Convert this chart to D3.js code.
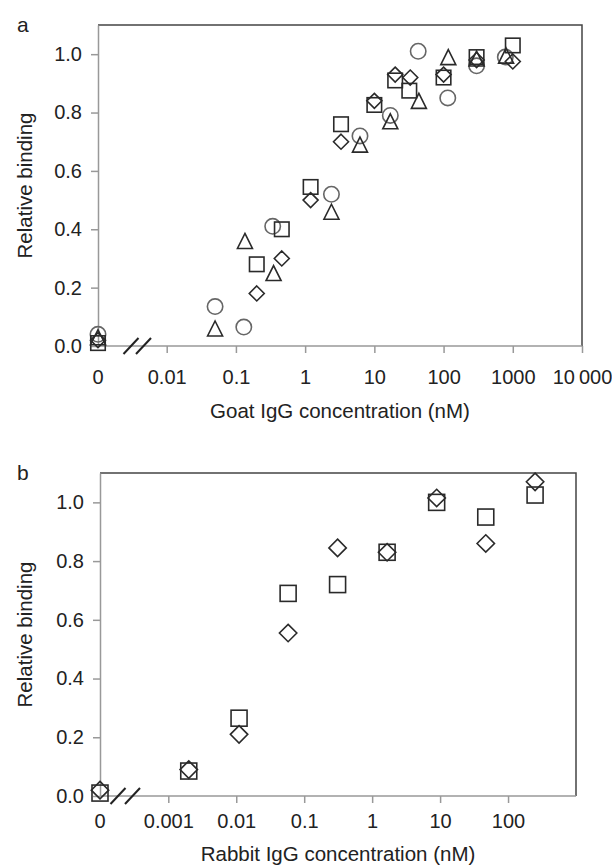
<!DOCTYPE html>
<html>
<head>
<meta charset="utf-8">
<script src="https://cdn.jsdelivr.net/npm/d3@7"></script>
<style>
  body { margin: 0; background: #fff; }
  text { font-family: "Liberation Sans", Arial, sans-serif; fill: #222; }
</style>
</head>
<body>
<svg id="chart" width="612" height="866"></svg>
<script>
// ---- panel a: goat IgG ----
const goatTicks = [0.01, 0.1, 1, 10, 100, 1000, 10000];
const goatTickLabels = ['0.01', '0.1', '1', '10', '100', '1000', '10\u2009000'];

const goatCircleX = [0, 0.05, 0.13, 0.34, 2.4, 6.2, 17, 43, 115, 300, 780];
const goatCircleY = [0.04, 0.135, 0.065, 0.41, 0.52, 0.72, 0.79, 1.01, 0.85, 0.96, 0.99];

const goatTriangleX = [0, 0.05, 0.135, 0.35, 2.4, 6.2, 17, 44, 117, 300, 800];
const goatTriangleY = [0.03, 0.06, 0.36, 0.25, 0.46, 0.69, 0.77, 0.84, 0.99, 0.985, 0.995];

const goatSquareX = [0, 0.2, 0.46, 1.2, 3.3, 10, 20, 32, 100, 300, 1000];
const goatSquareY = [0.01, 0.28, 0.40, 0.545, 0.76, 0.826, 0.91, 0.875, 0.92, 0.99, 1.03];

const goatDiamondX = [0, 0.2, 0.46, 1.2, 3.3, 10, 20, 33, 100, 300, 1000];
const goatDiamondY = [0.02, 0.18, 0.30, 0.50, 0.70, 0.84, 0.93, 0.92, 0.93, 0.98, 0.975];

// ---- panel b: rabbit IgG ----
const rabbitTicks = [0.001, 0.01, 0.1, 1, 10, 100];
const rabbitTickLabels = ['0.001', '0.01', '0.1', '1', '10', '100'];

const rabbitConc = [0, 0.002, 0.011, 0.058, 0.31, 1.66, 8.9, 47, 250];
const rabbitSquareY = [0.01, 0.085, 0.265, 0.69, 0.72, 0.83, 1.0, 0.95, 1.025];
const rabbitDiamondY = [0.02, 0.09, 0.21, 0.555, 0.845, 0.83, 1.015, 0.86, 1.07];

const yTicks = [0, 0.2, 0.4, 0.6, 0.8, 1.0];

const svg = d3.select('#chart');

const zip = (xs, ys) => xs.map((x, i) => ({ x, y: ys[i] }));

function drawPanel(p) {
  const g = svg.append('g');

  const x = d3.scaleLog().domain(p.domain).range([p.logStart, p.right]);
  const y = d3.scaleLinear().domain([0, 1.1]).range([p.bottom, p.top]);
  const xPos = (v) => (v === 0 ? p.left : x(v));

  // frame: top and right dark
  g.append('path')
    .attr('d', `M${p.left},${p.top}H${p.right}V${p.bottom}`)
    .attr('fill', 'none')
    .attr('stroke', '#444')
    .attr('stroke-width', 1.5);

  // bottom axis line
  g.append('line')
    .attr('x1', p.left).attr('x2', p.right)
    .attr('y1', p.bottom).attr('y2', p.bottom)
    .attr('stroke', '#999')
    .attr('stroke-width', 1.5);

  const xAxis = g.append('g')
    .attr('transform', `translate(0,${p.bottom})`)
    .attr('color', '#999')
    .call(d3.axisBottom(x)
      .tickValues(p.ticks)
      .tickFormat((d, i) => p.tickLabels[i])
      .tickSize(7)
      .tickSizeOuter(0)
      .tickPadding(p.xPad));
  xAxis.select('.domain').remove();
  xAxis.selectAll('line').attr('stroke-width', 1.5);
  xAxis.selectAll('text')
    .attr('fill', '#222')
    .style('font-size', '20px')
    .style('font-family', '"Liberation Sans", Arial, sans-serif');

  // zero label under the broken part of the axis
  g.append('text')
    .attr('x', p.left)
    .attr('y', p.bottom + p.xPad + 7 + 14.2)
    .attr('text-anchor', 'middle')
    .style('font-size', '20px')
    .text('0');

  const yAxis = g.append('g')
    .attr('transform', `translate(${p.left},0)`)
    .attr('color', '#999')
    .call(d3.axisLeft(y)
      .tickValues(yTicks)
      .tickFormat(d3.format('.1f'))
      .tickSize(7)
      .tickSizeOuter(0)
      .tickPadding(9));
  yAxis.select('.domain').attr('stroke-width', 1.5);
  yAxis.selectAll('line').attr('stroke-width', 1.5);
  yAxis.selectAll('text')
    .attr('fill', '#222')
    .style('font-size', '20px')
    .style('font-family', '"Liberation Sans", Arial, sans-serif');

  // titles
  g.append('text')
    .attr('x', 17).attr('y', p.top + 7)
    .style('font-size', '21px')
    .text(p.letter);

  g.append('text')
    .attr('transform', `translate(31.5,${(p.top + p.bottom) / 2}) rotate(-90)`)
    .attr('text-anchor', 'middle')
    .style('font-size', '20.5px')
    .text('Relative binding');

  g.append('text')
    .attr('x', (p.left + p.right) / 2)
    .attr('y', p.titleY)
    .attr('text-anchor', 'middle')
    .style('font-size', '20.5px')
    .text(p.xTitle);

  // markers
  const m = p.marker;
  p.series.forEach((s) => {
    const pts = g.append('g')
      .attr('fill', 'none')
      .attr('stroke', s.color)
      .attr('stroke-width', 1.6);
    const data = zip(s.x, s.y);
    if (s.shape === 'circle') {
      pts.selectAll('circle').data(data).join('circle')
        .attr('cx', (d) => xPos(d.x))
        .attr('cy', (d) => y(d.y))
        .attr('r', m.r);
    } else if (s.shape === 'square') {
      pts.selectAll('rect').data(data).join('rect')
        .attr('x', (d) => xPos(d.x) - m.sq / 2)
        .attr('y', (d) => y(d.y) - m.sq / 2)
        .attr('width', m.sq)
        .attr('height', m.sq);
    } else if (s.shape === 'diamond') {
      const h = m.dia;
      pts.selectAll('path').data(data).join('path')
        .attr('d', (d) => {
          const cx = xPos(d.x); const cy = y(d.y);
          return `M${cx},${cy - h}L${cx + h},${cy}L${cx},${cy + h}L${cx - h},${cy}Z`;
        });
    } else {
      const w = m.tri;
      pts.selectAll('path').data(data).join('path')
        .attr('d', (d) => {
          const cx = xPos(d.x); const cy = y(d.y);
          return `M${cx},${cy - w / 2}L${cx + w / 2},${cy + w / 2}L${cx - w / 2},${cy + w / 2}Z`;
        });
    }
  });

  // axis break marks
  p.breaks.forEach((bx) => {
    g.append('line')
      .attr('x1', bx - 7.5).attr('y1', p.bottom + 8)
      .attr('x2', bx + 7.5).attr('y2', p.bottom - 8)
      .attr('stroke', '#222')
      .attr('stroke-width', 2);
  });
}

drawPanel({
  letter: 'a',
  left: 98, right: 582, top: 25, bottom: 346, logStart: 166.7,
  domain: [0.01, 10000],
  ticks: goatTicks, tickLabels: goatTickLabels,
  xPad: 17, titleY: 418,
  xTitle: 'Goat IgG concentration (nM)',
  breaks: [131, 143.5],
  marker: { r: 7.7, sq: 14.5, dia: 7.5, tri: 15 },
  series: [
    { shape: 'circle', color: '#666', x: goatCircleX, y: goatCircleY },
    { shape: 'triangle', color: '#2a2a2a', x: goatTriangleX, y: goatTriangleY },
    { shape: 'square', color: '#2a2a2a', x: goatSquareX, y: goatSquareY },
    { shape: 'diamond', color: '#2a2a2a', x: goatDiamondX, y: goatDiamondY },
  ],
});

drawPanel({
  letter: 'b',
  left: 100, right: 576, top: 473, bottom: 796, logStart: 168.3,
  domain: [0.001, 1000],
  ticks: rabbitTicks, tickLabels: rabbitTickLabels,
  xPad: 11, titleY: 861,
  xTitle: 'Rabbit IgG concentration (nM)',
  breaks: [118, 132.5],
  marker: { r: 8, sq: 16, dia: 8.7, tri: 16 },
  series: [
    { shape: 'square', color: '#2a2a2a', x: rabbitConc, y: rabbitSquareY },
    { shape: 'diamond', color: '#2a2a2a', x: rabbitConc, y: rabbitDiamondY },
  ],
});
</script>
</body>
</html>
